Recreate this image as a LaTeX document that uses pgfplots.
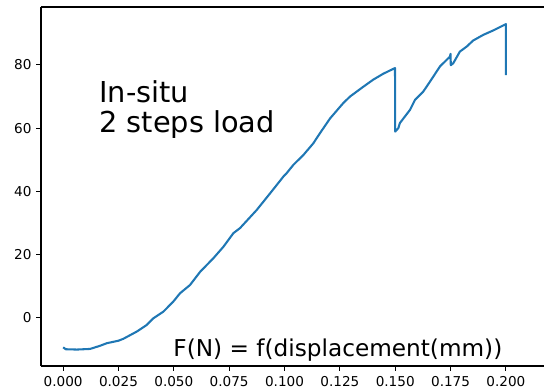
\documentclass[border=0pt]{standalone}
\usepackage{pgfplots}
\pgfplotsset{compat=1.18}
\usepackage{fontspec}
\setmainfont{DejaVu Sans}
\definecolor{mplblue}{HTML}{1F77B4}
\begin{document}
\begin{tikzpicture}
\begin{axis}[
  scale only axis,
  width=377.25pt, height=269.25pt,
  xmin=-0.01, xmax=0.2172,
  ymin=-15.2, ymax=98.3,
  axis x line*=box,
  axis y line*=left,
  axis line style={line width=0.8pt, black},
  xtick={0,0.025,0.05,0.075,0.1,0.125,0.15,0.175,0.2},
  ytick={0,20,40,60,80},
  xtick pos=bottom, ytick pos=left,
  tick align=outside,
  major tick length=3.6pt,
  every tick/.style={black, line width=0.8pt},
  /pgf/number format/assume math mode=true,
  xticklabel style={/pgf/number format/.cd, fixed, fixed zerofill, precision=3},
  yticklabel style={/pgf/number format/.cd, fixed, precision=0},
  ticklabel style={font=\fontsize{10.2}{12}\selectfont},
  xticklabel shift=0.8pt,
]
\addplot[color=mplblue, line width=1.55pt, line join=round] coordinates {
(0,-9.3) (0.0012,-9.9) (0.0062,-10.0) (0.0122,-9.8) (0.0167,-8.8) (0.0197,-8.0)
(0.025,-7.2) (0.0272,-6.6) (0.0333,-4.3) (0.0378,-2.2) (0.0408,-0.1) (0.0453,2.0)
(0.0498,5.2) (0.0528,7.8) (0.0573,10.4) (0.0619,14.6) (0.0679,18.9) (0.0724,22.5)
(0.0769,26.8) (0.0799,28.4) (0.0874,34.1) (0.0935,39.4) (0.0995,44.7) (0.101,45.8)
(0.104,48.4) (0.1085,51.5) (0.113,55.2) (0.116,58.4) (0.1206,63.1) (0.1265,67.9)
(0.1296,70.0) (0.1356,73.1) (0.140,75.3) (0.1446,77.2) (0.1499,79.0)
(0.1500,58.9) (0.1514,60.0) (0.1521,61.6) (0.1567,65.8) (0.1589,68.9) (0.1627,71.6)
(0.1657,74.7) (0.1702,79.5) (0.1747,82.6) (0.1750,83.5) (0.1751,79.9) (0.1762,80.5)
(0.1792,84.2) (0.1823,85.8) (0.1852,87.7) (0.1898,89.5) (0.1943,90.9) (0.2000,92.9)
(0.2000,76.8)
};
\node[anchor=base west, inner sep=0pt, font=\fontsize{21.6}{25}\selectfont] at (axis cs:0.0162,68.0) {In-situ};
\node[anchor=base west, inner sep=0pt, font=\fontsize{21.6}{25}\selectfont] at (axis cs:0.0162,58.5) {2 steps load};
\node[anchor=base west, inner sep=0pt, font=\fontsize{17.4}{21}\selectfont] at (axis cs:0.0497,-12.3) {F(N) = f(displacement(mm))};
\end{axis}
\pgfresetboundingbox
\useasboundingbox ([xshift=-30.75pt,yshift=-18.75pt]current axis.south west) rectangle ([yshift=5.25pt]current axis.north east);
\end{tikzpicture}
\end{document}
